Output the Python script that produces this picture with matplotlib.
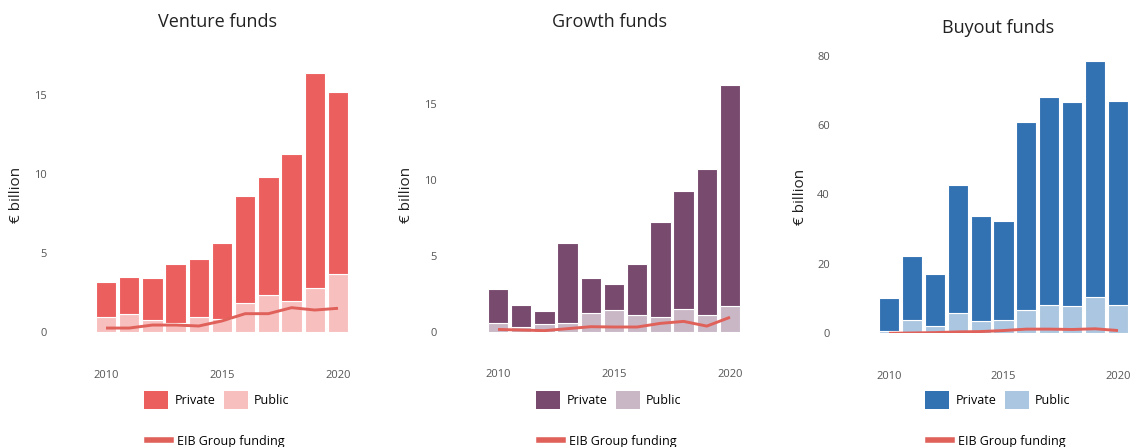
import numpy as np
import matplotlib
matplotlib.use("Agg")
import matplotlib.pyplot as plt
from matplotlib.patches import Patch
from matplotlib.lines import Line2D

plt.rcParams['font.family'] = ['Open Sans', 'DejaVu Sans']

years = np.arange(2010, 2021)

# Venture funds (EUR bn)
venture_total = [3.15, 3.5, 3.42, 4.29, 4.65, 5.64, 8.58, 9.8, 11.28, 16.37, 15.17]
venture_public = [0.93, 1.16, 0.74, 0.59, 0.93, 0.80, 1.86, 2.37, 1.94, 2.79, 3.66]
venture_eib = [0.25, 0.25, 0.44, 0.44, 0.38, 0.70, 1.16, 1.16, 1.54, 1.39, 1.5]

# Growth funds
growth_total = [2.79, 1.76, 1.39, 5.85, 3.54, 3.17, 4.44, 7.26, 9.26, 10.75, 16.27]
growth_public = [0.57, 0.29, 0.51, 0.57, 1.25, 1.41, 1.10, 0.97, 1.50, 1.10, 1.69]
growth_eib = [0.15, 0.11, 0.07, 0.2, 0.33, 0.31, 0.31, 0.55, 0.68, 0.37, 0.95]

# Buyout funds
buyout_total = [10.3, 22.2, 17.0, 42.8, 33.8, 32.5, 60.9, 68.2, 66.7, 78.6, 67.0]
buyout_public = [0.7, 3.9, 2.0, 5.8, 3.6, 3.9, 6.8, 8.1, 7.8, 10.4, 8.1]
buyout_eib = [0.0, 0.1, 0.2, 0.4, 0.5, 0.8, 1.2, 1.2, 1.1, 1.3, 0.8]

titles = ["Venture funds", "Growth funds", "Buyout funds"]
W, H = 1133, 447
eib_color = "#E0605A"

panels = [
    dict(title=titles[0], total=venture_total, public=venture_public, eib=venture_eib,
         c_priv="#EB5F5E", c_pub="#F7BFBE", yticks=[0, 5, 10, 15],
         l=65, r=365, x2010=106, x2020=338, y0=332, yref=95, vref=15, top=60,
         cx=217, ty=22, ylx=17, yly=195),
    dict(title=titles[1], total=growth_total, public=growth_public, eib=growth_eib,
         c_priv="#774A6E", c_pub="#C9B7C6", yticks=[0, 5, 10, 15],
         l=455, r=760, x2010=498, x2020=730, y0=331.7, yref=104.3, vref=15, top=60,
         cx=609, ty=22, ylx=407, yly=195),
    dict(title=titles[2], total=buyout_total, public=buyout_public, eib=buyout_eib,
         c_priv="#3272B3", c_pub="#ABC6E0", yticks=[0, 20, 40, 60, 80],
         l=848, r=1133, x2010=889, x2020=1118, y0=333.3, yref=55.7, vref=80, top=45,
         cx=998, ty=28, ylx=801, yly=197),
]

fig = plt.figure(figsize=(W / 100, H / 100), dpi=100)

for p in panels:
    ax = fig.add_axes([p['l'] / W, 1 - p['y0'] / H, (p['r'] - p['l']) / W, (p['y0'] - p['top']) / H])
    total = np.array(p['total'])
    public = np.array(p['public'])
    private = total - public

    ax.bar(years, public, width=0.88, color=p['c_pub'], edgecolor='white', linewidth=0.8)
    ax.bar(years, private, bottom=public, width=0.88, color=p['c_priv'], edgecolor='white', linewidth=0.8)
    ax.plot(years, p['eib'], color=eib_color, lw=2.1, solid_capstyle='butt', zorder=5)

    sx = (p['x2020'] - p['x2010']) / 10
    ax.set_xlim(2010 - (p['x2010'] - p['l']) / sx, 2010 + (p['r'] - p['x2010']) / sx)
    ky = (p['y0'] - p['yref']) / p['vref']
    ax.set_ylim(0, (p['y0'] - p['top']) / ky)

    ax.set_xticks([2010, 2015, 2020])
    ax.set_yticks(p['yticks'])
    ax.tick_params(axis='both', length=0, labelsize=8, labelcolor='#555555')
    ax.tick_params(axis='x', pad=27)
    ax.tick_params(axis='y', pad=13)
    for s in ax.spines.values():
        s.set_visible(False)

    fig.text(p['cx'] / W, 1 - p['ty'] / H, p['title'], ha='center', va='center',
             fontsize=13, color='#222222')
    fig.text(p['ylx'] / W, 1 - p['yly'] / H, "€ billion", rotation=90, ha='center', va='center',
             fontsize=11, color='#222222')

    h1 = [Patch(facecolor=p['c_priv'], label='Private'), Patch(facecolor=p['c_pub'], label='Public')]
    leg1 = ax.legend(handles=h1, loc='center', bbox_to_anchor=(p['cx'] / W, 1 - 400 / H),
                     bbox_transform=fig.transFigure, ncol=2, frameon=False, fontsize=9,
                     handlelength=1.9, handleheight=1.9, handletextpad=0.5, columnspacing=0.7,
                     borderaxespad=0, borderpad=0)
    ax.add_artist(leg1)
    h2 = [Line2D([0], [0], color=eib_color, lw=4, label='EIB Group funding')]
    ax.legend(handles=h2, loc='center', bbox_to_anchor=((p['cx'] - 1) / W, 1 - 441 / H),
              bbox_transform=fig.transFigure, frameon=False, fontsize=9,
              handlelength=1.9, handletextpad=0.5, borderaxespad=0, borderpad=0)

fig.savefig("out.png", dpi=100)
